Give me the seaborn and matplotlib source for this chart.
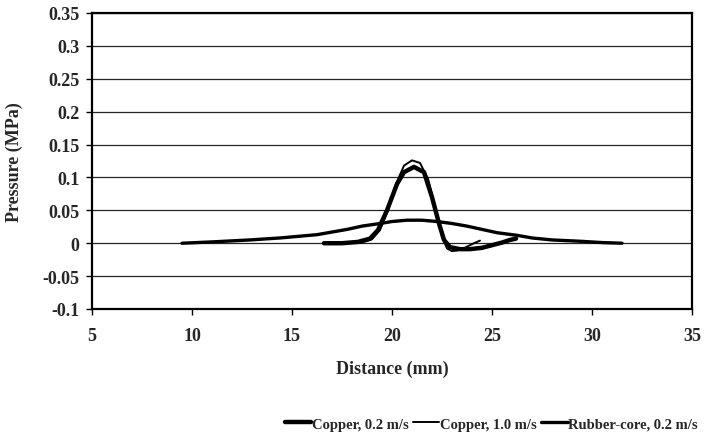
import numpy as np
import pandas as pd
import matplotlib
matplotlib.use('Agg')
import matplotlib.pyplot as plt
import seaborn as sns

# Values
copper02_x = [16.6, 17.5, 18.3, 18.9, 19.3, 19.75, 20.25, 20.6, 21.1, 21.6, 22.0, 22.35,
              22.6, 22.9, 23.4, 23.9, 24.5, 25.0, 25.5, 25.9, 26.2]
copper02_y = [0.0, 0.0, 0.002, 0.007, 0.02, 0.05, 0.09, 0.108, 0.116, 0.108, 0.07, 0.03,
              0.005, -0.006, -0.009, -0.009, -0.007, -0.003, 0.001, 0.005, 0.007]

copper10_x = [17.9, 18.5, 19.0, 19.4, 19.8, 20.2, 20.6, 21.0, 21.4, 21.8, 22.2, 22.5,
              22.75, 23.0, 23.3, 23.7, 24.1, 24.4]
copper10_y = [0.0, 0.001, 0.006, 0.02, 0.05, 0.09, 0.118, 0.126, 0.122, 0.098, 0.05, 0.01,
              -0.008, -0.012, -0.011, -0.006, 0.0, 0.004]

rubber_x = [9.5, 11.0, 12.9, 14.4, 16.25, 17.75, 18.5, 19.4, 20.0, 20.75, 21.5, 22.25,
            23.0, 23.75, 24.5, 25.25, 26.25, 27.0, 28.0, 29.4, 30.5, 31.5]
rubber_y = [0.0, 0.002, 0.005, 0.008, 0.013, 0.021, 0.026, 0.030, 0.033, 0.035, 0.035, 0.033,
            0.030, 0.026, 0.021, 0.016, 0.012, 0.008, 0.005, 0.003, 0.001, 0.0]

series_labels = ['Copper, 0.2 m/s', 'Copper, 1.0 m/s', 'Rubber-core, 0.2 m/s']
x_ticks = [5, 10, 15, 20, 25, 30, 35]
y_ticks = [-0.1, -0.05, 0, 0.05, 0.1, 0.15, 0.2, 0.25, 0.3, 0.35]

sns.set_style('white')
plt.rcParams['font.family'] = ['Liberation Serif', 'DejaVu Serif']
plt.rcParams['font.weight'] = 'bold'
plt.rcParams['axes.unicode_minus'] = False

fig = plt.figure(figsize=(7.05, 4.39), dpi=100)
ax = fig.add_axes([92 / 705, 1 - 310 / 439, 600 / 705, 296 / 439])

# horizontal gridlines
for v in y_ticks:
    ax.axhline(v, color='0.15', lw=0.9, zorder=0)

sns.lineplot(x=copper02_x, y=copper02_y, ax=ax, color='black', lw=3.2,
             sort=False, estimator=None, label=series_labels[0])
sns.lineplot(x=copper10_x, y=copper10_y, ax=ax, color='black', lw=1.4,
             sort=False, estimator=None, label=series_labels[1])
sns.lineplot(x=rubber_x, y=rubber_y, ax=ax, color='black', lw=2.4,
             sort=False, estimator=None, label=series_labels[2])

ax.set_xlim(5, 35)
ax.set_ylim(-0.1, 0.35)
ax.set_xticks(x_ticks)
ax.set_xticklabels([str(t) for t in x_ticks])
ax.set_yticks(y_ticks)
ax.set_yticklabels([f'{t:g}' for t in y_ticks])
ax.tick_params(axis='both', direction='out', length=4, width=1, color='black',
               labelsize=13, bottom=True, left=True)
ax.tick_params(axis='x', pad=9)
ax.tick_params(axis='y', pad=5)
for s in ax.spines.values():
    s.set_color('black')
    s.set_linewidth(1.6)

ax.set_xlabel('Distance (mm)', fontsize=13, fontweight='bold', labelpad=11)
ax.set_ylabel('Pressure (MPa)', fontsize=13, fontweight='bold', labelpad=14)

ax.legend_.remove()
handles, labels = ax.get_legend_handles_labels()
fig.legend(handles, labels, loc='center right', bbox_to_anchor=(0.99, 0.032),
           ncol=3, frameon=False, fontsize=10.5, handlelength=1.8,
           handletextpad=0.05, columnspacing=0.3, borderaxespad=0, borderpad=0)

fig.savefig('out.png', dpi=100)
